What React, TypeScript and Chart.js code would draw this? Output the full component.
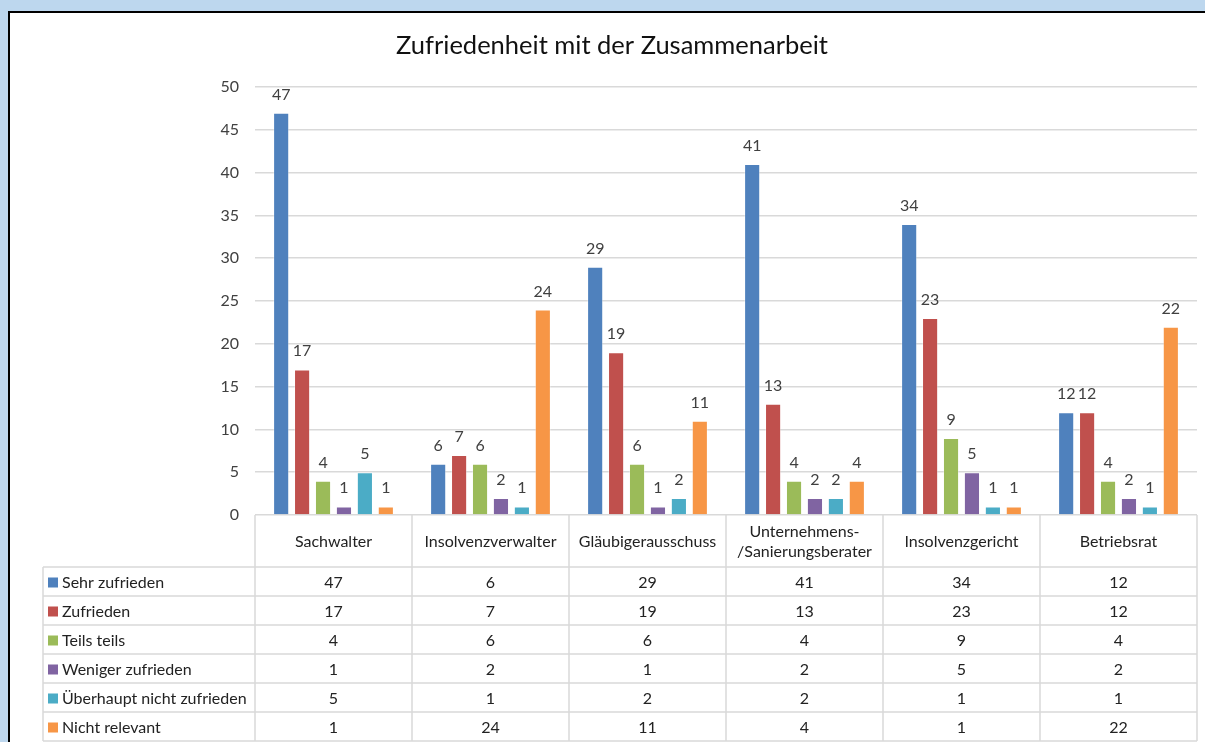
import { useEffect, useRef } from 'react';
import { Chart, registerables } from 'chart.js';

Chart.register(...registerables);

const categories: string[][] = [
  ['Sachwalter'],
  ['Insolvenzverwalter'],
  ['Gläubigerausschuss'],
  ['Unternehmens-', '/Sanierungsberater'],
  ['Insolvenzgericht'],
  ['Betriebsrat'],
];

const seriesNames = [
  'Sehr zufrieden',
  'Zufrieden',
  'Teils teils',
  'Weniger zufrieden',
  'Überhaupt nicht zufrieden',
  'Nicht relevant',
];

const sehrZufrieden = [47, 6, 29, 41, 34, 12];
const zufrieden = [17, 7, 19, 13, 23, 12];
const teilsTeils = [4, 6, 6, 4, 9, 4];
const wenigerZufrieden = [1, 2, 1, 2, 5, 2];
const ueberhauptNicht = [5, 1, 2, 2, 1, 1];
const nichtRelevant = [1, 24, 11, 4, 1, 22];

const seriesColors = ['#4F81BD', '#C0504D', '#9BBB59', '#8064A2', '#4BACC6', '#F79646'];

const yTicks = [0, 5, 10, 15, 20, 25, 30, 35, 40, 45, 50];

const titleText = 'Zufriedenheit mit der Zusammenarbeit';

const FONT = 'Lato, "Open Sans", sans-serif';

export default function App() {
  const ref = useRef<HTMLCanvasElement | null>(null);

  useEffect(() => {
    const canvas = ref.current;
    if (!canvas) return;
    const values = [sehrZufrieden, zufrieden, teilsTeils, wenigerZufrieden, ueberhauptNicht, nichtRelevant];

    const overlay = {
      id: 'overlay',
      afterDraw(chart: any) {
        const ctx = chart.ctx as CanvasRenderingContext2D;
        const area = chart.chartArea;
        const xs = chart.scales.x;
        ctx.save();

        // title
        ctx.fillStyle = '#111111';
        ctx.font = `25.5px ${FONT}`;
        ctx.textAlign = 'center';
        ctx.textBaseline = 'alphabetic';
        ctx.fillText(titleText, 612, 54);

        // data labels
        ctx.font = `16px ${FONT}`;
        ctx.fillStyle = '#404040';
        chart.data.datasets.forEach((ds: any, di: number) => {
          const meta = chart.getDatasetMeta(di);
          meta.data.forEach((bar: any, i: number) => {
            ctx.fillText(String(ds.data[i]), bar.x, bar.y - 13);
          });
        });

        // data table
        const n = categories.length;
        const colW = (area.right - area.left) / n;
        const headerBottom = area.bottom + 52;
        const rowH = 29;
        const tableLeft = 43;
        const tableBottom = headerBottom + rowH * seriesNames.length;

        ctx.strokeStyle = '#d9d9d9';
        ctx.lineWidth = 1.5;
        ctx.beginPath();
        for (let i = 0; i <= n; i++) {
          const x = area.left + colW * i;
          ctx.moveTo(x, area.bottom);
          ctx.lineTo(x, tableBottom);
        }
        ctx.moveTo(tableLeft, headerBottom);
        ctx.lineTo(tableLeft, tableBottom);
        for (let r = 0; r <= seriesNames.length; r++) {
          const y = headerBottom + rowH * r;
          ctx.moveTo(tableLeft, y);
          ctx.lineTo(area.right, y);
        }
        ctx.stroke();

        // headers
        ctx.font = `16px ${FONT}`;
        ctx.fillStyle = '#222222';
        ctx.textBaseline = 'middle';
        ctx.textAlign = 'center';
        categories.forEach((lines, i) => {
          const cx = xs.getPixelForValue(i);
          const midY = (area.bottom + headerBottom) / 2 + 1;
          const lh = 20;
          lines.forEach((line, li) => {
            const y = midY + (li - (lines.length - 1) / 2) * lh;
            ctx.fillText(line, cx, y);
          });
        });

        // rows
        seriesNames.forEach((name, r) => {
          const cy = headerBottom + rowH * r + rowH / 2 + 1;
          ctx.fillStyle = seriesColors[r];
          ctx.fillRect(48, cy - 5, 10, 10);
          ctx.fillStyle = '#222222';
          ctx.textAlign = 'left';
          ctx.fillText(name, 62, cy);
          ctx.textAlign = 'center';
          values[r].forEach((v, i) => {
            ctx.fillText(String(v), xs.getPixelForValue(i), cy);
          });
        });

        ctx.restore();
      },
    };

    const chart = new Chart(canvas, {
      type: 'bar',
      data: {
        labels: categories.map((c) => c.join(' ')),
        datasets: seriesNames.map((name, i) => ({
          label: name,
          data: values[i],
          backgroundColor: seriesColors[i],
          borderColor: 'rgba(255,255,255,0.35)',
          borderWidth: 1,
          categoryPercentage: 0.8,
          barPercentage: 0.77,
        })),
      },
      options: {
        responsive: false,
        animation: false,
        layout: { padding: { left: 0, right: 8, top: 87, bottom: 227 } },
        plugins: {
          legend: { display: false },
          title: { display: false },
          tooltip: { enabled: false },
        },
        scales: {
          x: {
            display: false,
          },
          y: {
            min: 0,
            max: 50,
            afterFit: (s: any) => {
              s.width = 255;
            },
            afterBuildTicks: (s: any) => {
              s.ticks = yTicks.map((v) => ({ value: v }));
            },
            grid: { color: '#d9d9d9', lineWidth: 1.5, drawTicks: false },
            border: { display: false },
            ticks: {
              padding: 16,
              color: '#404040',
              font: { family: FONT, size: 16 },
            },
          },
        },
      },
      plugins: [overlay],
    });

    return () => chart.destroy();
  }, []);

  return (
    <div style={{ position: 'fixed', left: 0, top: 0, width: 1205, height: 742, background: '#BDD7EE', overflow: 'hidden' }}>
      <div
        style={{
          position: 'absolute',
          left: 8,
          top: 11,
          width: 1300,
          height: 800,
          background: '#ffffff',
          borderLeft: '2px solid #000',
          borderTop: '2px solid #000',
        }}
      />
      <canvas ref={ref} width={1205} height={742} style={{ position: 'absolute', left: 0, top: 0 }} />
    </div>
  );
}
